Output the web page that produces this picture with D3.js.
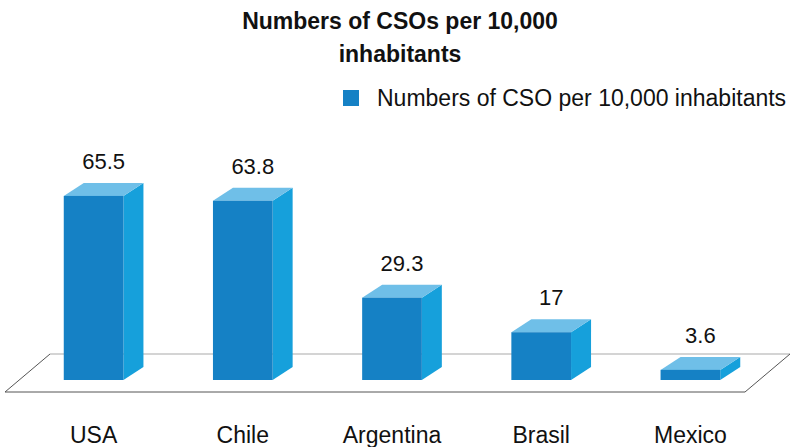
<!DOCTYPE html>
<html>
<head>
<meta charset="utf-8">
<script src="https://cdn.jsdelivr.net/npm/d3@7"></script>
<style>
  body { margin: 0; background: #fff; }
  text { font-family: "Liberation Sans", Arial, sans-serif; }
</style>
</head>
<body>
<div id="chart"></div>
<script>
// data
const countries = ["USA", "Chile", "Argentina", "Brasil", "Mexico"];
const values = [65.5, 63.8, 29.3, 17, 3.6];
const valueLabels = ["65.5", "63.8", "29.3", "17", "3.6"];
const seriesName = "Numbers of CSO per 10,000 inhabitants";
const titleLines = ["Numbers of CSOs per 10,000", "inhabitants"];

const width = 790, height = 447;
const depthX = 20, depthY = 13; // 3d offset

let svg = d3.select("#chart")
    .append("svg")
    .attr("width", width)
    .attr("height", height);

let x = d3.scaleBand()
    .domain(countries)
    .range([19, 765])
    .paddingInner(0.6)
    .paddingOuter(0.3);

let y = d3.scaleLinear()
    .domain([0, 70])
    .range([380, 183.3]);

// title
svg.append("text")
    .attr("text-anchor", "middle")
    .style("font-weight", "bold")
    .style("font-size", "23px")
    .attr("fill", "#111")
    .selectAll("tspan")
    .data(titleLines)
    .join("tspan")
    .attr("x", 400)
    .attr("y", (d, i) => 29 + i * 33)
    .text(d => d);

// legend
svg.append("rect")
    .attr("x", 343).attr("y", 90)
    .attr("width", 16).attr("height", 16)
    .attr("fill", "#1581C5");
svg.append("text")
    .attr("x", 377).attr("y", 106)
    .style("font-size", "23px")
    .attr("fill", "#111")
    .text(seriesName);

// floor
const y0 = y(0);
const floor = [[5, y0 + 12], [50, y0 - 26], [790, y0 - 26], [745, y0 + 12]];
svg.append("line")
    .attr("x1", floor[1][0]).attr("y1", floor[1][1])
    .attr("x2", floor[2][0]).attr("y2", floor[2][1])
    .attr("stroke", "#aaa").attr("stroke-width", 1.2);
svg.append("path")
    .attr("d", `M${floor[2]}L${floor[3]}L${floor[0]}L${floor[1]}`)
    .attr("fill", "none")
    .attr("stroke", "#555").attr("stroke-width", 1);

let bar = svg.selectAll(".bar")
    .data(countries.map((c, i) => ({ c, v: values[i], label: valueLabels[i] })))
    .join("g")
    .attr("class", "bar");

const bw = x.bandwidth();

// side face
bar.append("path")
    .attr("fill", "#16A0DB")
    .attr("d", d => {
        let x1 = x(d.c) + bw, t = y(d.v);
        return `M${x1},${t}L${x1 + depthX},${t - depthY}L${x1 + depthX},${y0 - depthY}L${x1},${y0}Z`;
    });

// top face
bar.append("path")
    .attr("fill", "#6FBFE8")
    .attr("d", d => {
        let x0 = x(d.c), t = y(d.v);
        return `M${x0},${t}L${x0 + depthX},${t - depthY}L${x0 + bw + depthX},${t - depthY}L${x0 + bw},${t}Z`;
    });

// front face
bar.append("rect")
    .attr("fill", "#1581C5")
    .attr("x", d => x(d.c))
    .attr("width", bw)
    .attr("y", d => y(d.v))
    .attr("height", d => y0 - y(d.v));

// value labels
bar.append("text")
    .text(d => d.label)
    .attr("x", d => x(d.c) + bw / 2 + depthX / 2)
    .attr("y", d => y(d.v) - depthY - 14)
    .attr("text-anchor", "middle")
    .style("font-size", "22px")
    .attr("fill", "#111");

// category labels
svg.append("g")
    .selectAll("text")
    .data(countries)
    .join("text")
    .attr("x", d => x(d) + bw / 2)
    .attr("y", 443)
    .attr("text-anchor", "middle")
    .style("font-size", "23px")
    .attr("fill", "#111")
    .text(d => d);
</script>
</body>
</html>
